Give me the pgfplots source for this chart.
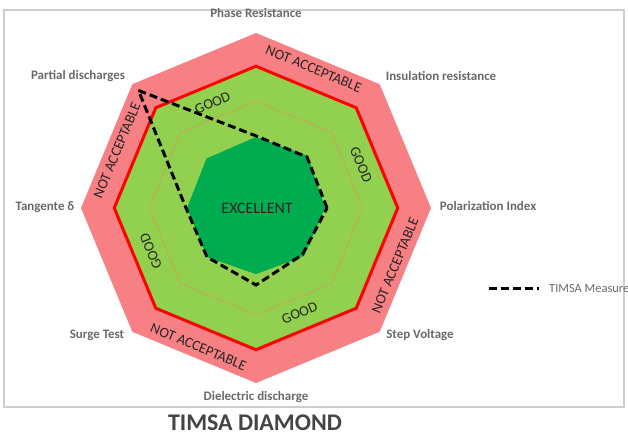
\documentclass[border=0pt]{standalone}
\usepackage{pgfplots}
\pgfplotsset{compat=1.18}
\usepgfplotslibrary{polar}
\usepackage{fontspec}
\setmainfont{Carlito}
\definecolor{pinkz}{RGB}{247,128,132}
\definecolor{lgreen}{RGB}{146,208,80}
\definecolor{dgreen}{RGB}{0,172,80}
\definecolor{gridor}{RGB}{205,160,90}
\definecolor{lblgray}{RGB}{105,105,105}
\definecolor{framegray}{RGB}{205,205,205}
\definecolor{titlegray}{RGB}{68,68,68}
\begin{document}
\begin{tikzpicture}
\begin{axis}[
  width=628bp, height=436bp, scale only axis,
  xmin=-7.3143, xmax=10.6286, ymin=-6.5143, ymax=5.9429,
  hide axis, clip=false,
  legend style={at={(axis cs:6.6,-2.31)}, anchor=west, draw=none, fill=none,
    inner sep=0pt, nodes={inner sep=0pt}, column sep=9bp,
    font=\fontsize{12.5}{14}\selectfont\color{lblgray}, cells={anchor=west}},
  legend image code/.code={\draw[#1] (0bp,0bp) -- (50bp,0bp);},
]
% outer (not acceptable) zone
\addplot[fill=pinkz, draw=none, data cs=polar, forget plot]
  coordinates {(0,5) (45,5) (90,5) (135,5) (180,5) (225,5) (270,5) (315,5)} -- cycle;
% good zone with red limit
\addplot[fill=lgreen, draw=red, line width=3bp, data cs=polar, forget plot]
  coordinates {(0,4.05) (45,4.05) (90,4.05) (135,4.05) (180,4.05) (225,4.05) (270,4.05) (315,4.05)} -- cycle;
% grid level
\addplot[draw=gridor, line width=0.7bp, data cs=polar, forget plot]
  coordinates {(0,3.05) (45,3.05) (90,3.05) (135,3.05) (180,3.05) (225,3.05) (270,3.05) (315,3.05)} -- cycle;
% excellent zone
\addplot[fill=dgreen, draw=none, data cs=polar, forget plot]
  coordinates {(0,1.97) (45,2.1) (90,2.03) (135,2.0) (180,1.97) (225,1.98) (270,1.89) (315,1.94)} -- cycle;
% TIMSA measure
\addplot[draw=black, line width=3bp, dash pattern=on 8bp off 4bp, data cs=polar]
  coordinates {(0,2.03) (45,2.06) (90,2.06) (135,4.75) (180,2.0) (225,1.98) (270,2.2) (315,1.88)} -- cycle;
\addlegendentry{TIMSA Measure}

% frame
\draw[framegray, line width=1.5bp] (axis cs:-7.2,5.657) rectangle (axis cs:10.514,-5.686);

% axis labels
\begin{scope}[every node/.style={font=\fontsize{13}{15}\selectfont\bfseries, text=lblgray}]
\node at (axis cs:0,5.571) {Phase Resistance};
\node at (axis cs:5.286,3.771) {Insulation resistance};
\node at (axis cs:6.629,0.057) {Polarization Index};
\node at (axis cs:4.686,-3.629) {Step Voltage};
\node at (axis cs:0,-5.4) {Dielectric discharge};
\node at (axis cs:-4.543,-3.629) {Surge Test};
\node at (axis cs:-6.029,0.029) {Tangente δ};
\node at (axis cs:-5.086,3.771) {Partial discharges};
\end{scope}

% zone labels
\begin{scope}[every node/.style={font=\fontsize{14.5}{16}\selectfont, text=black!85, inner sep=0pt}]
\node[rotate=-22.5] at (axis cs:1.646,3.973) {NOT ACCEPTABLE};
\node[rotate=67.5] at (axis cs:-3.973,1.646) {NOT ACCEPTABLE};
\node[rotate=67.5] at (axis cs:3.973,-1.646) {NOT ACCEPTABLE};
\node[rotate=-22.5] at (axis cs:-1.646,-3.973) {NOT ACCEPTABLE};
\node[rotate=22.5] at (axis cs:-1.244,3.003) {GOOD};
\node[rotate=-67.5] at (axis cs:3.003,1.244) {GOOD};
\node[rotate=22.5] at (axis cs:1.244,-3.003) {GOOD};
\node[rotate=112.5] at (axis cs:-3.003,-1.244) {GOOD};
\node[font=\fontsize{16}{18}\selectfont] at (axis cs:0.03,0) {EXCELLENT};
\end{scope}

% title
\node[font=\fontsize{24}{28}\selectfont\bfseries, text=titlegray, inner sep=0pt, anchor=base] at (axis cs:-0.03,-6.37) {TIMSA DIAMOND};
\end{axis}
\pgfresetboundingbox
\path[use as bounding box] (current axis.south west) rectangle (current axis.north east);
\end{tikzpicture}
\end{document}
